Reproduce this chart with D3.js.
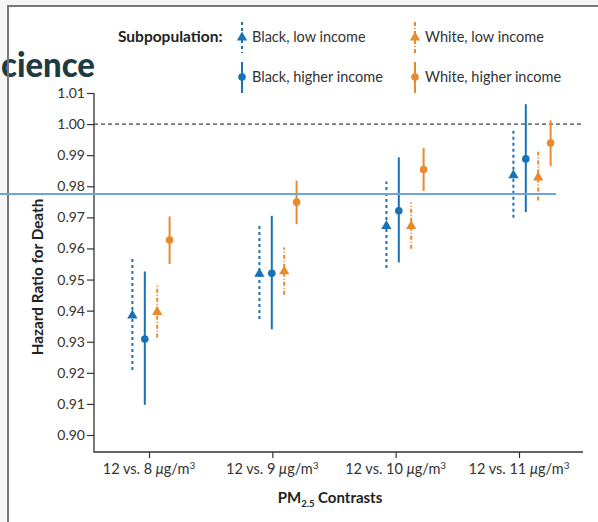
<!DOCTYPE html>
<html>
<head>
<meta charset="utf-8">
<script src="https://cdn.jsdelivr.net/npm/d3@7"></script>
<style>
  html, body { margin: 0; padding: 0; background: #fff; }
  svg { display: block; font-family: Lato, "Open Sans", sans-serif; }
</style>
</head>
<body>
<div id="chart"></div>
<script>
var contrasts = ['12 vs. 8', '12 vs. 9', '12 vs. 10', '12 vs. 11'];
var groups = ['Black, low income', 'Black, higher income', 'White, low income', 'White, higher income'];
var yTicks = [0.90, 0.91, 0.92, 0.93, 0.94, 0.95, 0.96, 0.97, 0.98, 0.99, 1.00, 1.01];

// hazard ratio estimates, one array per subpopulation (in contrast order)
var blackLowHR   = [0.9386, 0.9520, 0.9674, 0.9837];
var blackLowLo   = [0.9209, 0.9373, 0.9537, 0.9699];
var blackLowHi   = [0.9566, 0.9673, 0.9815, 0.9979];
var blackHighHR  = [0.9309, 0.9520, 0.9721, 0.9888];
var blackHighLo  = [0.9097, 0.9340, 0.9555, 0.9717];
var blackHighHi  = [0.9526, 0.9705, 0.9893, 1.0064];
var whiteLowHR   = [0.9397, 0.9528, 0.9674, 0.9830];
var whiteLowLo   = [0.9313, 0.9451, 0.9599, 0.9754];
var whiteLowHi   = [0.9481, 0.9603, 0.9748, 0.9911];
var whiteHighHR  = [0.9627, 0.9749, 0.9854, 0.9939];
var whiteHighLo  = [0.9550, 0.9678, 0.9785, 0.9865];
var whiteHighHi  = [0.9703, 0.9818, 0.9923, 1.0012];

var refValue = 1.00;
var overlayValue = 0.9775; // the light blue line across the page

var blue = '#1872b8', orange = '#e88a2d';
var series = [
  { name: groups[0], hr: blackLowHR, lo: blackLowLo, hi: blackLowHi, color: blue, shape: 'tri', dash: '3,3' },
  { name: groups[1], hr: blackHighHR, lo: blackHighLo, hi: blackHighHi, color: blue, shape: 'dot', dash: null },
  { name: groups[2], hr: whiteLowHR, lo: whiteLowLo, hi: whiteLowHi, color: orange, shape: 'tri', dash: '4,2,1,2' },
  { name: groups[3], hr: whiteHighHR, lo: whiteHighLo, hi: whiteHighHi, color: orange, shape: 'dot', dash: null }
];

var width = 598, height = 522;
var svg = d3.select('#chart').append('svg')
  .attr('width', width)
  .attr('height', height);

// page frame from the source screenshot
svg.append('rect').attr('x', 0).attr('y', 0).attr('width', 8).attr('height', height).attr('fill', '#f6f6f6');
svg.append('rect').attr('x', 0).attr('y', 0).attr('width', width).attr('height', 6).attr('fill', '#f6f6f6');
svg.append('text')
  .attr('x', 1).attr('y', 77)
  .attr('font-size', 35)
  .attr('font-weight', 900)
  .attr('fill', '#1e3b42')
  .attr('textLength', 94)
  .attr('lengthAdjust', 'spacingAndGlyphs')
  .text('cience');
svg.append('path')
  .attr('d', 'M8,' + height + ' V6 H' + width)
  .attr('fill', 'none')
  .attr('stroke', '#777')
  .attr('stroke-width', 2);

var y = d3.scaleLinear().domain([0.90, 1.01]).range([435, 93]);
var xTick = d3.scalePoint().domain(contrasts).range([149, 519]);
var xGroup = d3.scalePoint().domain(contrasts).range([151, 532]);
var xSeries = d3.scalePoint().domain(groups).range([-18.6, 18.6]);

var axisX0 = 94, axisY0 = 452, axisX1 = 583;

// y axis
var yAxis = svg.append('g')
  .attr('transform', 'translate(' + axisX0 + ',0)')
  .call(d3.axisLeft(y).tickValues(yTicks).tickFormat(d3.format('.2f')).tickSize(7).tickPadding(2));
yAxis.select('.domain').remove();
yAxis.selectAll('line').attr('stroke', '#333').attr('stroke-width', 1.2);
yAxis.selectAll('text').attr('font-size', 14).attr('fill', '#333').attr('font-family', 'Lato, sans-serif');

// x axis
var xAxis = svg.append('g')
  .attr('transform', 'translate(0,' + axisY0 + ')')
  .call(d3.axisBottom(xTick).tickSize(6).tickFormat(''));
xAxis.select('.domain').remove();
xAxis.selectAll('line').attr('stroke', '#333').attr('stroke-width', 1.2);

svg.append('path')
  .attr('d', 'M' + axisX0 + ',' + y(1.01) + ' V' + axisY0 + ' H' + axisX1)
  .attr('fill', 'none')
  .attr('stroke', '#333')
  .attr('stroke-width', 1.3);

// x tick labels with mu and superscript
var xl = svg.append('g').selectAll('text')
  .data(contrasts)
  .enter().append('text')
  .attr('x', d => xTick(d))
  .attr('y', 474)
  .attr('text-anchor', 'middle')
  .attr('font-size', 14.5)
  .attr('fill', '#333');
xl.append('tspan').text(d => d + ' ');
xl.append('tspan').attr('font-style', 'italic').text('\u03bc');
xl.append('tspan').text('g/m');
xl.append('tspan').attr('font-size', 10).attr('dy', -5).text('3');

// axis titles
var xt = svg.append('text')
  .attr('x', 330).attr('y', 503)
  .attr('text-anchor', 'middle')
  .attr('font-size', 15)
  .attr('font-weight', 'bold')
  .attr('fill', '#222');
xt.append('tspan').text('PM');
xt.append('tspan').attr('font-size', 9.5).attr('dy', 4).text('2.5');
xt.append('tspan').attr('dy', -4).text(' Contrasts');

svg.append('text')
  .attr('transform', 'translate(43,277) rotate(-90)')
  .attr('text-anchor', 'middle')
  .attr('font-size', 15.3)
  .attr('font-weight', 'bold')
  .attr('fill', '#222')
  .text('Hazard Ratio for Death');

// reference line at 1.00
svg.append('line')
  .attr('x1', axisX0).attr('x2', axisX1)
  .attr('y1', y(refValue)).attr('y2', y(refValue))
  .attr('stroke', '#444')
  .attr('stroke-width', 1.2)
  .attr('stroke-dasharray', '4,3');

var tri = d3.symbol().type(d3.symbolTriangle).size(46);

function drawMarker(g, s, cx, cy) {
  if (s.shape === 'tri') {
    g.append('path')
      .attr('d', tri())
      .attr('transform', 'translate(' + cx + ',' + (cy + 0.5) + ')')
      .attr('fill', s.color);
  } else {
    g.append('circle')
      .attr('cx', cx).attr('cy', cy).attr('r', 3.8)
      .attr('fill', s.color);
  }
}

// error bars + markers
series.forEach(s => {
  var g = svg.append('g');
  contrasts.forEach((c, i) => {
    var cx = xGroup(c) + xSeries(s.name);
    g.append('line')
      .attr('x1', cx).attr('x2', cx)
      .attr('y1', y(s.lo[i])).attr('y2', y(s.hi[i]))
      .attr('stroke', s.color)
      .attr('stroke-width', 2)
      .attr('stroke-dasharray', s.dash);
    drawMarker(g, s, cx, y(s.hr[i]));
  });
});

// legend
svg.append('text')
  .attr('x', 118).attr('y', 42)
  .attr('font-size', 15.5)
  .attr('font-weight', 'bold')
  .attr('fill', '#222')
  .text('Subpopulation:');

var legendPos = [[242, 37], [242, 77], [415, 37], [415, 77]];
series.forEach((s, i) => {
  var lx = legendPos[i][0], ly = legendPos[i][1];
  var g = svg.append('g');
  g.append('line')
    .attr('x1', lx).attr('x2', lx)
    .attr('y1', ly - 15).attr('y2', ly + 16)
    .attr('stroke', s.color)
    .attr('stroke-width', 2)
    .attr('stroke-dasharray', s.dash);
  drawMarker(g, s, lx, ly);
  g.append('text')
    .attr('x', lx + 10).attr('y', ly + 5)
    .attr('font-size', 14.5)
    .attr('fill', '#333')
    .text(s.name);
});

// light blue overlay line
svg.append('line')
  .attr('x1', 0).attr('x2', 556)
  .attr('y1', y(overlayValue)).attr('y2', y(overlayValue))
  .attr('stroke', '#6ea6dc')
  .attr('stroke-width', 2);
</script>
</body>
</html>
